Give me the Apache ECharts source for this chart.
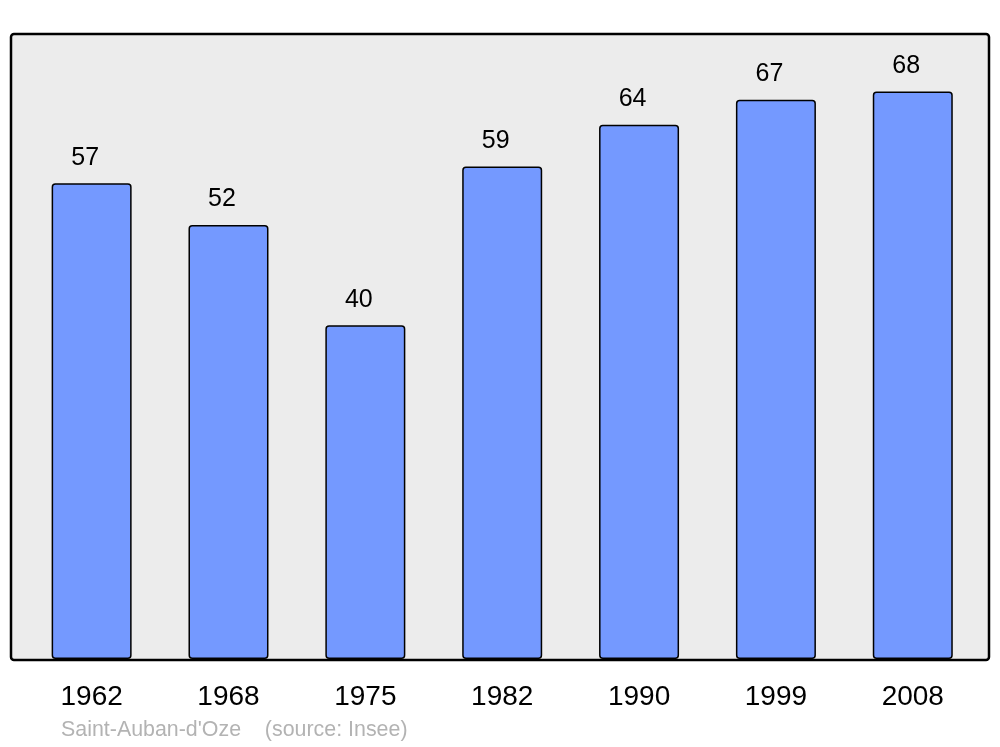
<!DOCTYPE html>
<html><head><meta charset="utf-8">
<script src="https://cdn.jsdelivr.net/npm/echarts@6/dist/echarts.min.js"></script>
<style>html,body{margin:0;padding:0;background:#fff}#c{width:1000px;height:747px}</style>
</head><body><div id="c"></div>
<script>
const years = ['1962','1968','1975','1982','1990','1999','2008'];
const population = [57, 52, 40, 59, 64, 67, 68];
const footer = "Saint-Auban-d'Oze    (source: Insee)";

const chart = echarts.init(document.getElementById('c'), null, {renderer:'canvas'});
chart.setOption({
  animation: false,
  textStyle: {fontFamily: 'Liberation Sans, Arial, sans-serif'},
  grid: {left: 23.2, right: 18.8, top: 33, bottom: 88, containLabel: false},
  xAxis: {
    type: 'category', data: years,
    axisLine: {show: false}, axisTick: {show: false},
    axisLabel: {color: '#000', fontSize: 28, margin: 24, fontFamily: 'Liberation Sans, Arial, sans-serif'}
  },
  yAxis: {type: 'value', min: 0, max: 75, show: false, splitLine: {show: false}},
  graphic: [
    {type: 'rect', z: -10, shape: {x: 11, y: 34, width: 978, height: 626, r: 3},
     style: {fill: '#ececec', stroke: '#000', lineWidth: 2.5}},
    {type: 'text', left: 61, top: 720, z: 10,
     style: {text: footer, fill: '#b3b3b3', fontSize: 21.4, fontFamily: 'Liberation Sans, Arial, sans-serif'}}
  ],
  series: [{
    type: 'bar', data: population, barWidth: 80,
    itemStyle: {color: '#7499ff', borderColor: '#000', borderWidth: 1.5, borderRadius: 3},
    label: {show: true, position: 'top', distance: 13, offset: [-6.5, 0], color: '#000', fontSize: 25,
            fontFamily: 'Liberation Sans, Arial, sans-serif'}
  }]
});
</script></body></html>
